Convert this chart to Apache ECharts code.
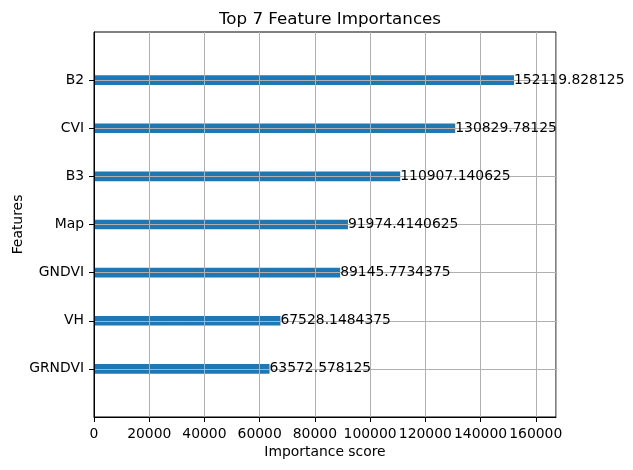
<!DOCTYPE html>
<html>
<head>
<meta charset="utf-8">
<script src="https://cdn.jsdelivr.net/npm/echarts@6/dist/echarts.min.js"></script>
<style>
html,body{margin:0;padding:0;background:#fff;}
#c{width:633px;height:470px;}
</style>
</head>
<body>
<div id="c"></div>
<script>
const features = ['GRNDVI', 'VH', 'GNDVI', 'Map', 'B3', 'CVI', 'B2'];
const scores = [63572.578125, 67528.1484375, 89145.7734375, 91974.4140625, 110907.140625, 130829.78125, 152119.828125];
const xTicks = [0, 20000, 40000, 60000, 80000, 100000, 120000, 140000, 160000];

const FONT = 'DejaVu Sans';
const cats = [''].concat(features, ['']);
const barData = [null].concat(scores, [null]);
const xMax = Math.max.apply(null, scores) * 1.1;
const inner = (i) => i > 0 && i < cats.length - 1;

const chart = echarts.init(document.getElementById('c'), null, {renderer: 'canvas'});
chart.setOption({
  animation: false,
  backgroundColor: '#fff',
  title: {
    text: 'Top 7 Feature Importances',
    left: 325, textAlign: 'center', top: 6,
    textStyle: {fontFamily: FONT, fontSize: 16.7, fontWeight: 'normal', color: '#000'}
  },
  grid: {left: 94, right: 77, top: 32, bottom: 53, show: true, borderColor: '#000', borderWidth: 1,
    backgroundColor: 'transparent', z: 5, containLabel: false, outerBoundsMode: 'none'},
  xAxis: {
    type: 'value', min: 0, max: xMax, interval: xTicks[1] - xTicks[0],
    z: 5,
    name: 'Importance score', nameLocation: 'middle', nameGap: 28, nameMoveOverlap: false,
    nameTextStyle: {fontFamily: FONT, fontSize: 13.9, color: '#000'},
    axisLine: {show: true, lineStyle: {color: '#000', width: 1}},
    axisTick: {show: true, length: 5, lineStyle: {color: '#000', width: 1}},
    axisLabel: {margin: 10, fontFamily: FONT, fontSize: 13.9, color: '#000', showMaxLabel: false,
      formatter: (v) => xTicks.indexOf(v) >= 0 ? String(v) : ''},
    splitLine: {show: true, lineStyle: {color: '#b0b0b0', width: 1}}
  },
  yAxis: {
    type: 'category', data: cats, boundaryGap: false,
    z: 5,
    name: 'Features', nameLocation: 'middle', nameGap: 69, nameMoveOverlap: false,
    nameTextStyle: {fontFamily: FONT, fontSize: 13.9, color: '#000'},
    axisLine: {show: true, lineStyle: {color: '#000', width: 1}},
    axisTick: {show: true, length: 5, interval: (i) => inner(i), lineStyle: {color: '#000', width: 1}},
    axisLabel: {margin: 10, fontFamily: FONT, fontSize: 13.9, color: '#000', interval: 0},
    splitLine: {show: true, interval: (i) => inner(i), lineStyle: {color: '#b0b0b0', width: 1}}
  },
  series: [{
    type: 'bar',
    data: barData,
    barWidth: 9.6,
    z: 2,
    itemStyle: {color: '#1f77b4'}
  }, {
    type: 'bar',
    data: barData,
    barWidth: 9.6,
    barGap: '-100%',
    z: 10,
    silent: true,
    itemStyle: {color: 'rgba(0,0,0,0)'},
    label: {
      show: true, position: 'right', distance: 0,
      fontFamily: FONT, fontSize: 13.9, color: '#000',
      formatter: (p) => String(p.value)
    }
  }]
});
</script>
</body>
</html>
